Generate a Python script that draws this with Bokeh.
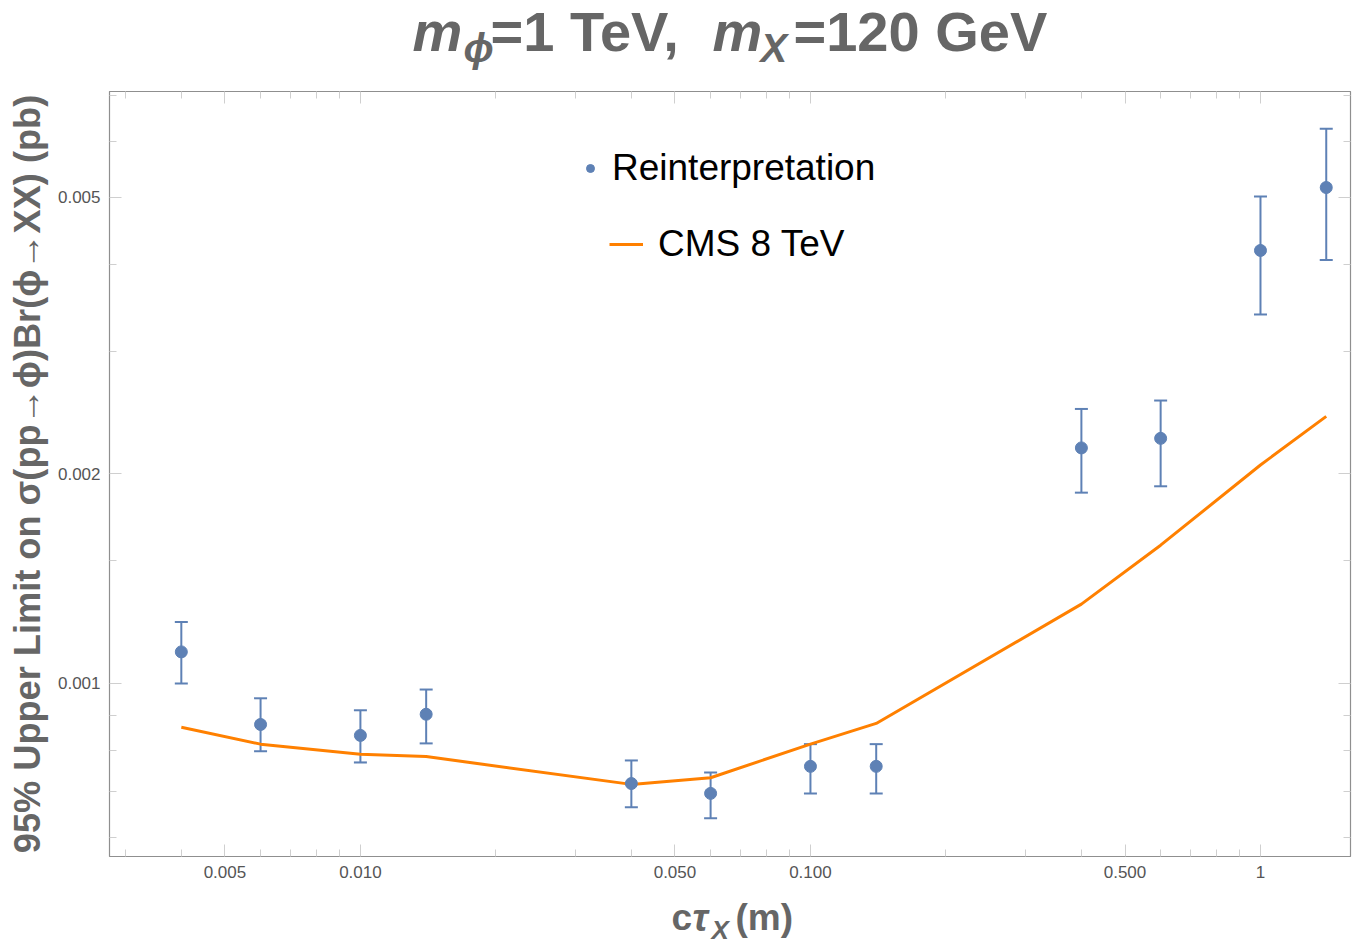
from bokeh.plotting import figure
from bokeh.models import (Range1d, LogAxis, FixedTicker, Whisker, TeeHead, ColumnDataSource,
                          Legend, LegendItem, Label, LogScale)
from bokeh.layouts import column
from bokeh.embed import file_html
from bokeh.resources import INLINE

# ---- data ----
ctau = [0.004, 0.006, 0.01, 0.014, 0.04, 0.06, 0.1, 0.14, 0.4, 0.6, 1.0, 1.4]
reint = [0.00111, 0.000873, 0.000842, 0.000903, 0.000718, 0.000695, 0.00076, 0.00076,
         0.00218, 0.00225, 0.00419, 0.00516]
reint_upper = [0.001225, 0.000952, 0.000915, 0.00098, 0.000775, 0.000745, 0.000818, 0.000818,
               0.00248, 0.00255, 0.00501, 0.00627]
reint_lower = [0.001, 0.000799, 0.00077, 0.00082, 0.000664, 0.00064, 0.000695, 0.000695,
               0.00188, 0.00192, 0.00339, 0.00406]
cms8 = [0.000865, 0.000818, 0.000791, 0.000785, 0.000716, 0.000732, 0.000818, 0.000876,
        0.0013, 0.00158, 0.00206, 0.00242]

x_major = [0.005, 0.01, 0.05, 0.1, 0.5, 1.0]
x_major_labels = ["0.005", "0.010", "0.050", "0.100", "0.500", "1"]
x_minor = [0.003, 0.004, 0.006, 0.007, 0.008, 0.009, 0.02, 0.03, 0.04, 0.06, 0.07, 0.08, 0.09,
           0.2, 0.3, 0.4, 0.6, 0.7, 0.8, 0.9]
y_major = [0.001, 0.002, 0.005]
y_major_labels = ["0.001", "0.002", "0.005"]
y_minor = [0.0006, 0.0007, 0.0008, 0.0009, 0.0015, 0.003, 0.004, 0.006, 0.007]

BLUE = "#5E81B5"
ORANGE = "#FF8000"
FRAME = "#8f8f8f"
TICK = "#cfcfcf"
LABEL_GRAY = "#666666"
FONT = "Liberation Sans"

W = 1361
TOP_H = 91
MAIN_H = 796
BOT_H = 944 - TOP_H - MAIN_H
F_LEFT, F_RIGHT = 109, 1350


def blank_fig(h):
    f = figure(width=W, height=h, x_range=Range1d(F_LEFT, F_RIGHT), y_range=Range1d(0, h),
               x_axis_type=None, y_axis_type=None, output_backend="svg",
               toolbar_location=None, min_border=0, title_location=None)
    f.xgrid.visible = False
    f.ygrid.visible = False
    f.outline_line_color = None
    f.border_fill_color = "white"
    return f


ttl = blank_fig(TOP_H)
bot = blank_fig(BOT_H)


def lab(fig, h, text, cx, cy, size, style):
    fig.add_layout(Label(x=cx, y=h - cy, text=text, text_font=FONT, text_font_size=size,
                         text_font_style=style, text_color=LABEL_GRAY,
                         text_baseline="alphabetic", text_align="left"))


# title pieces (positions in page pixels)
lab(ttl, TOP_H, "m", 412, 31, "56px", "bold italic")
lab(ttl, TOP_H, "ϕ", 463, 47, "40px", "bold italic")
lab(ttl, TOP_H, "=1 TeV,", 490, 31, "56px", "bold")
lab(ttl, TOP_H, "m", 712, 31, "56px", "bold italic")
lab(ttl, TOP_H, "X", 760, 47, "40px", "bold italic")
lab(ttl, TOP_H, "=120 GeV", 793, 31, "56px", "bold")

# x-axis label pieces
off = TOP_H + MAIN_H
lab(bot, BOT_H, "c", 671, 917 - off, "37px", "bold")
lab(bot, BOT_H, "τ", 692, 917 - off, "38px", "bold italic")
lab(bot, BOT_H, "X", 711, 929 - off, "26px", "bold italic")
lab(bot, BOT_H, "(m)", 735, 917 - off, "37px", "bold")

p = figure(width=W, height=MAIN_H, x_axis_type=None, y_axis_type=None,
           x_range=Range1d(0.00277, 1.585), y_range=Range1d(0.000564, 0.00709),
           output_backend="svg", toolbar_location=None,
           min_border_left=109, min_border_right=11, min_border_top=0, min_border_bottom=31)
p.x_scale = LogScale()
p.y_scale = LogScale()
p.xgrid.visible = False
p.ygrid.visible = False
p.outline_line_color = FRAME
p.background_fill_color = "white"
p.border_fill_color = "white"


def make_axis(major, minor, labels, show_labels):
    ax = LogAxis(ticker=FixedTicker(ticks=major, minor_ticks=minor))
    ax.axis_line_color = FRAME
    ax.axis_line_width = 1.2
    ax.major_tick_line_color = TICK
    ax.minor_tick_line_color = TICK
    ax.major_tick_in = 12
    ax.major_tick_out = 0
    ax.minor_tick_in = 7
    ax.minor_tick_out = 0
    ax.major_label_text_font = FONT
    ax.major_label_text_color = "#555555"
    if show_labels:
        ax.major_label_overrides = {m: l for m, l in zip(major, labels)}
        ax.major_label_text_font_size = "17px"
        ax.major_label_standoff = 9
    else:
        ax.major_label_overrides = {m: "" for m in major}
        ax.major_label_text_font_size = "0px"
        ax.major_label_standoff = 0
    return ax


xb = make_axis(x_major, x_minor, x_major_labels, True)
xt = make_axis(x_major, x_minor, x_major_labels, False)
yl = make_axis(y_major, y_minor, y_major_labels, True)
yr = make_axis(y_major, y_minor, y_major_labels, False)
yl.axis_label = "95% Upper Limit on σ(pp→ϕ)Br(ϕ→XX) (pb)"
yl.axis_label_text_font = FONT
yl.axis_label_text_font_style = "bold"
yl.axis_label_text_font_size = "36.2px"
yl.axis_label_text_color = LABEL_GRAY
yl.axis_label_standoff = 7
p.add_layout(xb, "below")
p.add_layout(xt, "above")
p.add_layout(yl, "left")
p.add_layout(yr, "right")

src = ColumnDataSource(dict(x=ctau, y=reint, up=reint_upper, lo=reint_lower, cms=cms8))

line_r = p.line("x", "cms", source=src, line_color=ORANGE, line_width=3)
p.add_layout(Whisker(source=src, base="x", upper="up", lower="lo", dimension="height",
                     line_color=BLUE, line_width=2,
                     upper_head=TeeHead(size=13, line_color=BLUE, line_width=2),
                     lower_head=TeeHead(size=13, line_color=BLUE, line_width=2)))
leg_dot = p.scatter(x=ctau[:1], y=reint[:1], size=8, fill_color=BLUE, line_color=BLUE)
pts = p.scatter("x", "y", source=src, size=12, fill_color=BLUE, line_color=BLUE)

leg1 = Legend(items=[LegendItem(label="Reinterpretation", renderers=[leg_dot])],
              location=(471, 666), glyph_width=20, glyph_height=44, label_height=44,
              label_standoff=12, padding=0, margin=0, border_line_color=None,
              background_fill_alpha=0, label_text_font=FONT, label_text_font_size="37px",
              label_text_color="black")
leg2 = Legend(items=[LegendItem(label="CMS 8 TeV", renderers=[line_r])],
              location=(500, 590), glyph_width=34, glyph_height=44, label_height=44,
              label_standoff=15, padding=0, margin=0, border_line_color=None,
              background_fill_alpha=0, label_text_font=FONT, label_text_font_size="37px",
              label_text_color="black")
p.add_layout(leg1, "center")
p.add_layout(leg2, "center")

layout = column(ttl, p, bot, spacing=0)
open("out.html", "w").write(file_html(layout, INLINE))
